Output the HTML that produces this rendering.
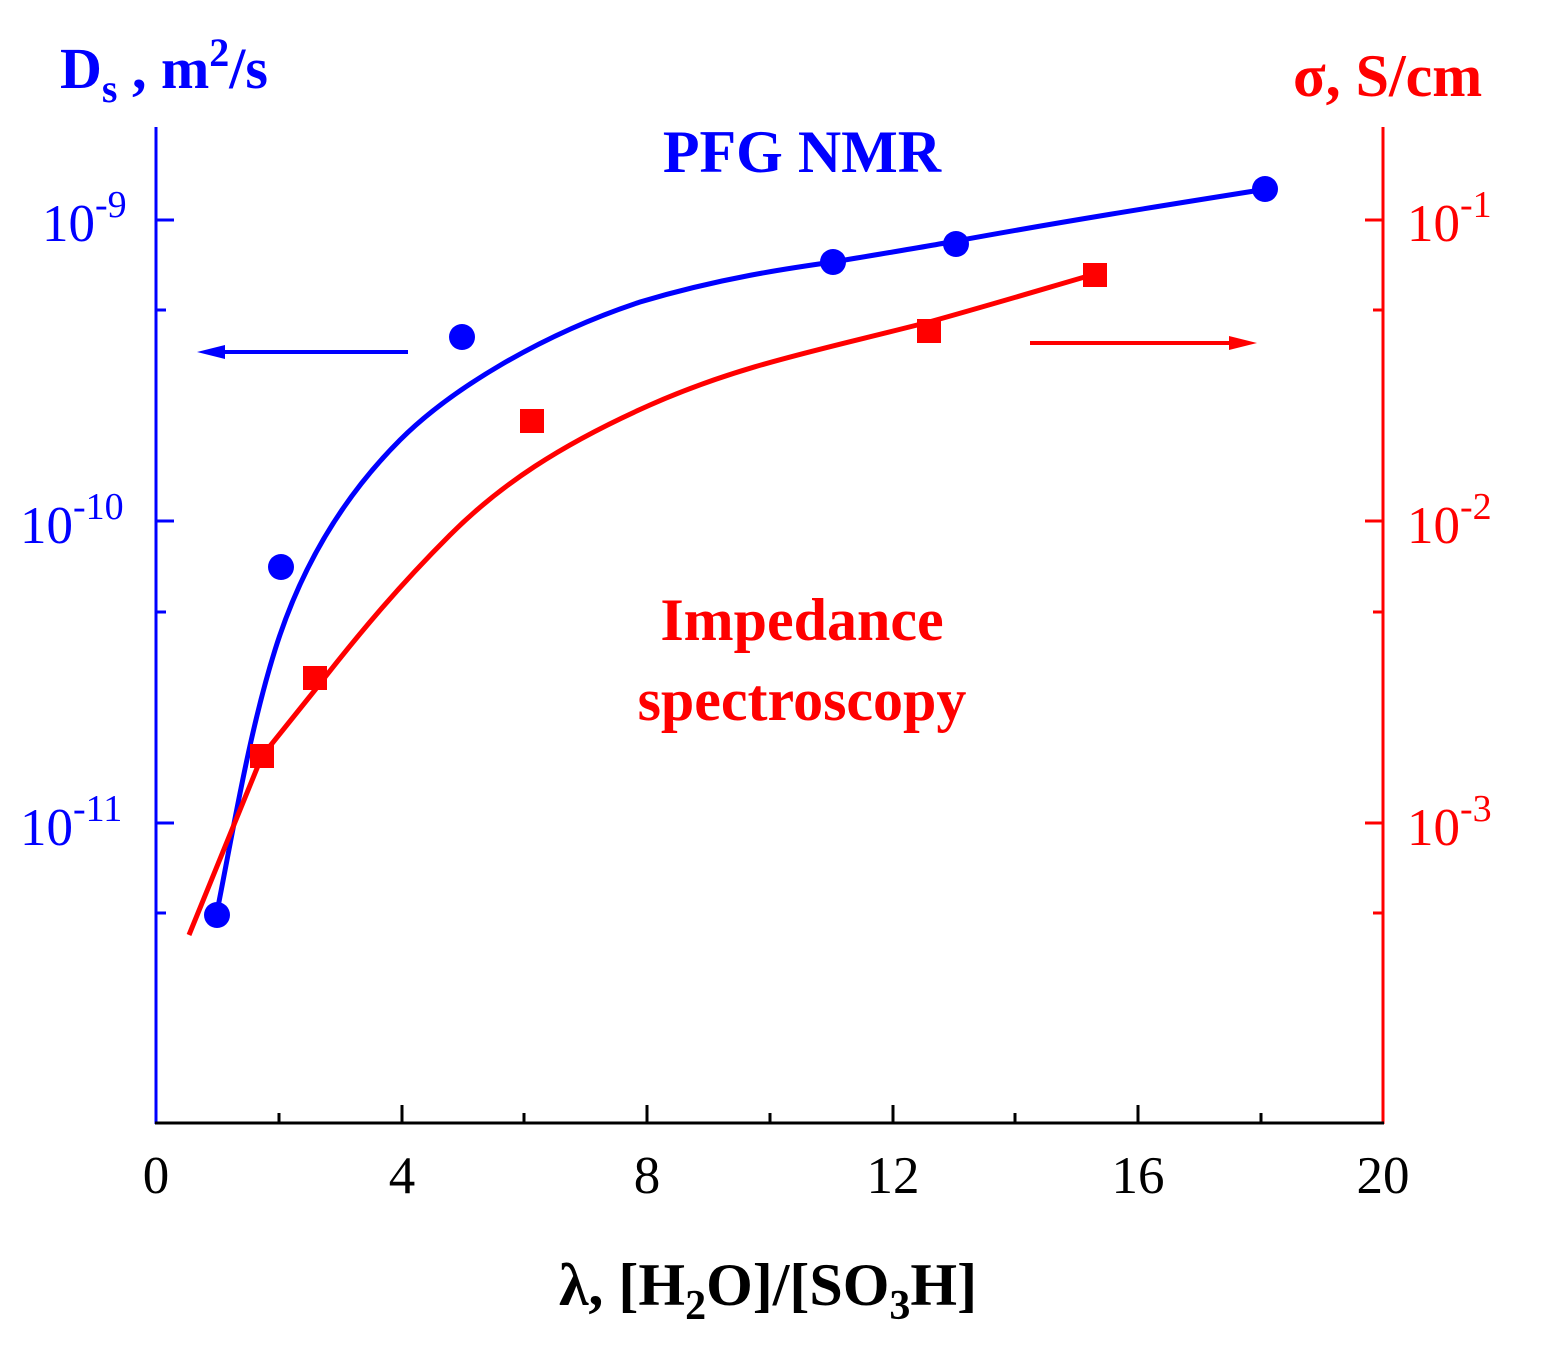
<!DOCTYPE html>
<html><head><meta charset="utf-8"><style>
html,body{margin:0;padding:0;background:#fff;}
svg{display:block;font-family:"Liberation Serif",serif;}
</style></head><body>
<svg width="1544" height="1348" viewBox="0 0 1544 1348" xmlns="http://www.w3.org/2000/svg">
<line x1="156" y1="127" x2="156" y2="1124" stroke="#0000ff" stroke-width="3"/>
<line x1="1383" y1="127" x2="1383" y2="1124" stroke="#ff0000" stroke-width="3"/>
<line x1="155" y1="1123" x2="1384" y2="1123" stroke="#000" stroke-width="3"/>
<g stroke="#0000ff" stroke-width="3">
<line x1="156" y1="220" x2="174" y2="220"/><line x1="156" y1="521" x2="174" y2="521"/><line x1="156" y1="823" x2="174" y2="823"/>
<line x1="156" y1="310" x2="166" y2="310"/><line x1="156" y1="612" x2="166" y2="612"/><line x1="156" y1="913" x2="166" y2="913"/>
</g>
<g stroke="#ff0000" stroke-width="3">
<line x1="1365" y1="220" x2="1383" y2="220"/><line x1="1365" y1="521" x2="1383" y2="521"/><line x1="1365" y1="823" x2="1383" y2="823"/>
<line x1="1373" y1="310" x2="1383" y2="310"/><line x1="1373" y1="612" x2="1383" y2="612"/><line x1="1373" y1="913" x2="1383" y2="913"/>
</g>
<g stroke="#000" stroke-width="3">
<line x1="402" y1="1123" x2="402" y2="1105"/><line x1="647" y1="1123" x2="647" y2="1105"/><line x1="893" y1="1123" x2="893" y2="1105"/><line x1="1138" y1="1123" x2="1138" y2="1105"/>
<line x1="279" y1="1123" x2="279" y2="1113"/><line x1="524" y1="1123" x2="524" y2="1113"/><line x1="770" y1="1123" x2="770" y2="1113"/><line x1="1015" y1="1123" x2="1015" y2="1113"/><line x1="1261" y1="1123" x2="1261" y2="1113"/>
</g>
<g font-size="53" fill="#000" text-anchor="middle">
<text x="156" y="1193">0</text><text x="402" y="1193">4</text><text x="647" y="1193">8</text><text x="893" y="1193">12</text><text x="1138" y="1193">16</text><text x="1383" y="1193">20</text>
</g>
<g font-size="53" fill="#0000ff">
<text x="42" y="241">10<tspan font-size="38" dy="-24">-9</tspan></text>
<text x="20" y="543">10<tspan font-size="38" dy="-24">-10</tspan></text>
<text x="20" y="845">10<tspan font-size="38" dy="-24">-11</tspan></text>
</g>
<g font-size="53" fill="#ff0000">
<text x="1407" y="241">10<tspan font-size="38" dy="-24">-1</tspan></text>
<text x="1407" y="543">10<tspan font-size="38" dy="-24">-2</tspan></text>
<text x="1407" y="845">10<tspan font-size="38" dy="-24">-3</tspan></text>
</g>
<text x="60" y="88" font-size="58" font-weight="bold" fill="#0000ff">D<tspan font-size="40" dy="14">s</tspan><tspan dy="-14"> , m</tspan><tspan font-size="40" dy="-22">2</tspan><tspan dy="22">/s</tspan></text>
<text x="1293" y="96" font-size="60" font-weight="bold" fill="#ff0000">σ, S/cm</text>
<text x="802" y="172" font-size="60" font-weight="bold" fill="#0000ff" text-anchor="middle">PFG NMR</text>
<text x="802" y="640" font-size="60" font-weight="bold" fill="#ff0000" text-anchor="middle">Impedance</text>
<text x="802" y="720" font-size="60" font-weight="bold" fill="#ff0000" text-anchor="middle">spectroscopy</text>
<text x="768" y="1305" font-size="60" font-weight="bold" fill="#000" text-anchor="middle">λ, [H<tspan font-size="42" dy="14">2</tspan><tspan dy="-14">O]/[SO</tspan><tspan font-size="42" dy="14">3</tspan><tspan dy="-14">H]</tspan></text>
<path d="M217,912 C235,820 250,730 275,650 C300,570 340,500 400,440 C450,390 540,335 640,302 C720,278 790,268 833,262 C880,254 930,246 956,241 C1060,222 1160,206 1267,189" fill="none" stroke="#0000ff" stroke-width="5"/>
<path d="M189,935 L262,756 L315,690 C360,632 400,585 450,535 S560,445 650,405 S820,350 929,322 C990,305 1040,290 1095,274" fill="none" stroke="#ff0000" stroke-width="5"/>
<line x1="408" y1="352" x2="210" y2="352" stroke="#0000ff" stroke-width="4"/>
<polygon points="197,352 225,345 225,359" fill="#0000ff"/>
<line x1="1030" y1="343" x2="1243" y2="343" stroke="#ff0000" stroke-width="4"/>
<polygon points="1257,343 1229,336 1229,350" fill="#ff0000"/>
<g fill="#0000ff">
<circle cx="217" cy="915" r="13"/><circle cx="281" cy="567" r="13"/><circle cx="462" cy="337" r="13"/><circle cx="833" cy="262" r="13"/><circle cx="956" cy="244" r="13"/><circle cx="1265" cy="189" r="13"/>
</g>
<g fill="#ff0000">
<rect x="250" y="744" width="24" height="24"/><rect x="303" y="666" width="24" height="24"/><rect x="520" y="409" width="24" height="24"/><rect x="917" y="319" width="24" height="24"/><rect x="1083" y="263" width="24" height="24"/>
</g>
</svg>
</body></html>
